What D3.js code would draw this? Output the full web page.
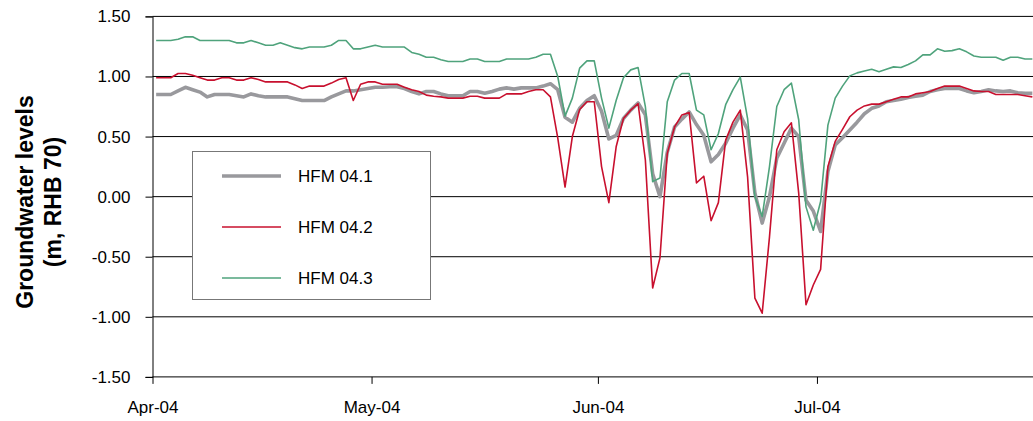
<!doctype html>
<html lang="en">

<head>
    <meta charset="UTF-8" />
    <title>Groundwater levels HFM 04</title>
    <script src="https://d3js.org/d3.v7.min.js"></script>
    <style>
        body,
        html {
            margin: 0;
            padding: 0;
            background: #ffffff;
            overflow: hidden;
        }

        svg {
            display: block;
            font-family: Arial, "Liberation Sans", sans-serif;
        }

        .tick-label {
            font-size: 17px;
            fill: #000;
        }

        .legend-label {
            font-size: 17px;
            fill: #000;
        }

        .title {
            font-size: 23px;
            font-weight: bold;
            fill: #000;
        }
    </style>
</head>

<body>
    <svg id="chart" width="1033" height="421"></svg>
    <script>
        // daily readings, first value = 1 April 2004
        const startDay = "2004-04-01";

        const hfm041 = [
            0.85, 0.85, 0.85, 0.88, 0.91, 0.89, 0.87, 0.83, 0.85, 0.85,
            0.85, 0.84, 0.83, 0.855, 0.84, 0.83, 0.83, 0.83, 0.83, 0.815,
            0.80, 0.80, 0.80, 0.80, 0.83, 0.855, 0.88, 0.88, 0.89, 0.90,
            0.91, 0.91, 0.915, 0.915, 0.90, 0.875, 0.855, 0.875, 0.875, 0.855,
            0.84, 0.84, 0.84, 0.875, 0.875, 0.86, 0.875, 0.895, 0.905, 0.895,
            0.905, 0.905, 0.905, 0.92, 0.94, 0.89, 0.66, 0.62, 0.735, 0.80,
            0.84, 0.71, 0.48, 0.51, 0.65, 0.72, 0.78, 0.68, 0.19, 0.00,
            0.37, 0.58, 0.645, 0.705, 0.60, 0.51, 0.29, 0.35, 0.445, 0.57,
            0.68, 0.555, 0.03, -0.22, 0.00, 0.32, 0.445, 0.57, 0.50, -0.03,
            -0.12, -0.29, 0.21, 0.43, 0.49, 0.555, 0.62, 0.69, 0.735, 0.755,
            0.79, 0.80, 0.81, 0.825, 0.835, 0.845, 0.875, 0.89, 0.90, 0.90,
            0.90, 0.88, 0.865, 0.875, 0.89, 0.88, 0.875, 0.88, 0.865, 0.86,
            0.86
        ];

        const hfm042 = [
            0.99, 0.99, 0.99, 1.025, 1.025, 1.01, 0.99, 0.97, 0.97, 0.99,
            0.99, 0.97, 0.97, 0.99, 0.975, 0.955, 0.955, 0.955, 0.955, 0.93,
            0.90, 0.92, 0.92, 0.92, 0.945, 0.975, 0.99, 0.80, 0.935, 0.955,
            0.955, 0.935, 0.935, 0.935, 0.91, 0.89, 0.875, 0.845, 0.835, 0.83,
            0.82, 0.82, 0.82, 0.835, 0.835, 0.82, 0.82, 0.82, 0.855, 0.855,
            0.855, 0.875, 0.89, 0.89, 0.83, 0.49, 0.08, 0.50, 0.725, 0.79,
            0.79, 0.25, -0.05, 0.415, 0.65, 0.72, 0.775, 0.305, -0.76, -0.51,
            0.36, 0.58, 0.68, 0.70, 0.115, 0.17, -0.20, -0.05, 0.47, 0.62,
            0.72, 0.165, -0.845, -0.97, -0.335, 0.39, 0.54, 0.615, 0.03, -0.90,
            -0.735, -0.605, 0.25, 0.46, 0.56, 0.665, 0.72, 0.755, 0.77, 0.77,
            0.79, 0.81, 0.83, 0.83, 0.855, 0.865, 0.875, 0.90, 0.92, 0.92,
            0.92, 0.90, 0.88, 0.875, 0.875, 0.85, 0.85, 0.85, 0.85, 0.84,
            0.83
        ];

        const hfm043 = [
            1.30, 1.30, 1.30, 1.31, 1.33, 1.33, 1.30, 1.30, 1.30, 1.30,
            1.30, 1.28, 1.28, 1.30, 1.28, 1.26, 1.26, 1.28, 1.26, 1.24,
            1.23, 1.245, 1.245, 1.245, 1.26, 1.30, 1.30, 1.23, 1.23, 1.245,
            1.26, 1.245, 1.245, 1.245, 1.245, 1.20, 1.185, 1.16, 1.16, 1.14,
            1.125, 1.125, 1.125, 1.145, 1.145, 1.125, 1.125, 1.125, 1.145, 1.145,
            1.145, 1.145, 1.16, 1.185, 1.185, 1.00, 0.67, 0.82, 1.07, 1.13,
            1.13, 0.82, 0.57, 0.80, 0.99, 1.055, 1.075, 0.75, 0.125, 0.155,
            0.79, 0.97, 1.025, 1.025, 0.72, 0.68, 0.39, 0.525, 0.765, 0.89,
            0.995, 0.65, 0.00, -0.165, 0.25, 0.75, 0.89, 0.945, 0.64, -0.085,
            -0.28, -0.04, 0.595, 0.82, 0.92, 1.005, 1.03, 1.045, 1.06, 1.04,
            1.06, 1.08, 1.075, 1.10, 1.13, 1.18, 1.18, 1.23, 1.21, 1.215,
            1.23, 1.205, 1.17, 1.16, 1.16, 1.16, 1.135, 1.16, 1.16, 1.145,
            1.145
        ];

        const seriesNames = ["HFM 04.1", "HFM 04.2", "HFM 04.3"];
        const yTicks = [-1.5, -1.0, -0.5, 0.0, 0.5, 1.0, 1.5];
        const xTickDates = ["2004-04-01", "2004-05-01", "2004-06-01", "2004-07-01"];
        const xTickLabels = ["Apr-04", "May-04", "Jun-04", "Jul-04"];

        const svg = d3.select("#chart");
        const parseDay = d3.timeParse("%Y-%m-%d");
        const start = parseDay(startDay);
        // readings are plotted at midday
        const dates = hfm041.map((v, i) => d3.timeHour.offset(d3.timeDay.offset(start, i), 12));

        const x = d3.scaleTime()
            .domain([start, parseDay("2004-07-31")])
            .range([152.5, 1036]);

        const y = d3.scaleLinear()
            .domain([-1.5, 1.5])
            .range([376.9, 16.4]);

        // horizontal grid
        svg.append("g")
            .selectAll("line")
            .data(yTicks.filter(d => d > -1.5))
            .join("line")
            .attr("x1", 152.5)
            .attr("x2", 1033)
            .attr("y1", d => y(d))
            .attr("y2", d => y(d))
            .attr("stroke", "#000")
            .attr("stroke-width", 1);

        // y axis (plain hyphen for negatives, like the original)
        const yAxis = svg.append("g")
            .attr("transform", "translate(152.5,0)")
            .call(d3.axisLeft(y).tickValues(yTicks).tickSize(7).tickFormat(d => d.toFixed(2)));
        yAxis.select(".domain").attr("stroke", "#000");
        yAxis.selectAll(".tick line").attr("stroke", "#000");
        yAxis.selectAll(".tick text")
            .attr("class", "tick-label")
            .attr("x", -22)
            .attr("font-family", null)
            .attr("font-size", null);

        // x axis
        const xAxis = svg.append("g")
            .attr("transform", `translate(0,${y(-1.5)})`)
            .call(d3.axisBottom(x)
                .tickValues(xTickDates.map(parseDay))
                .tickSize(7)
                .tickFormat((d, i) => xTickLabels[i]));
        xAxis.select(".domain").attr("d", `M152.5,0H1033`).attr("stroke", "#000");
        xAxis.selectAll(".tick line").attr("stroke", "#000");
        xAxis.selectAll(".tick text")
            .attr("class", "tick-label")
            .attr("y", 24)
            .attr("font-family", null)
            .attr("font-size", null);

        // series
        const series = [
            { name: seriesNames[0], values: hfm041, color: "#99999d", width: 3.6 },
            { name: seriesNames[1], values: hfm042, color: "#c8102e", width: 1.6 },
            { name: seriesNames[2], values: hfm043, color: "#4fa37c", width: 1.6 }
        ];

        const line = d3.line()
            .x((d, i) => x(dates[i]))
            .y(d => y(d));

        svg.append("defs").append("clipPath").attr("id", "plot-clip")
            .append("rect").attr("x", 152.5).attr("y", 0).attr("width", 900).attr("height", 421);

        svg.append("g")
            .attr("clip-path", "url(#plot-clip)")
            .selectAll("path")
            .data(series)
            .join("path")
            .attr("d", d => line(d.values))
            .attr("fill", "none")
            .attr("stroke", d => d.color)
            .attr("stroke-width", d => d.width)
            .attr("stroke-linejoin", "round");

        // legend
        const legend = svg.append("g").attr("transform", "translate(192,151)");
        legend.append("rect")
            .attr("x", 0.5)
            .attr("y", 0.5)
            .attr("width", 238)
            .attr("height", 148)
            .attr("fill", "#fff")
            .attr("stroke", "#777");

        const item = legend.selectAll(".item")
            .data(series)
            .join("g")
            .attr("class", "item")
            .attr("transform", (d, i) => `translate(0,${25 + i * 51})`);
        item.append("line")
            .attr("x1", 30)
            .attr("x2", 89)
            .attr("stroke", d => d.color)
            .attr("stroke-width", d => d.width);
        item.append("text")
            .attr("class", "legend-label")
            .attr("x", 106)
            .attr("dy", "0.35em")
            .text(d => d.name);

        // y title
        const title = svg.append("text")
            .attr("class", "title")
            .attr("text-anchor", "middle")
            .attr("transform", "translate(0,202) rotate(-90)");
        title.append("tspan").attr("x", 0).attr("y", 33).text("Groundwater levels");
        title.append("tspan").attr("x", 0).attr("y", 61).text("(m, RHB 70)");
    </script>
</body>

</html>
